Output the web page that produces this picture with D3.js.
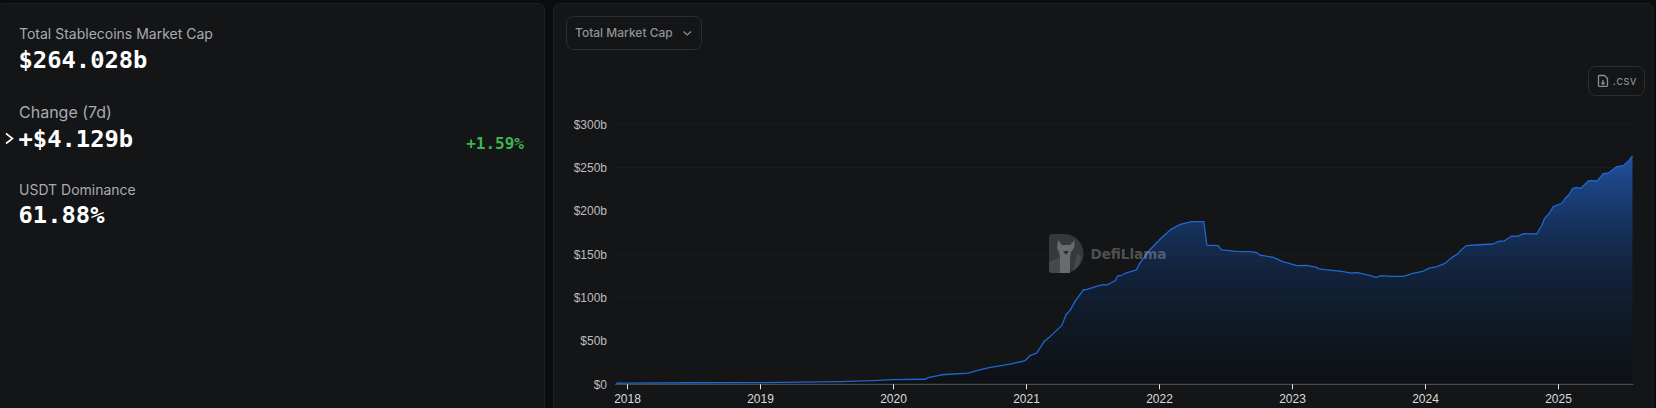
<!DOCTYPE html>
<html>
<head>
<meta charset="utf-8">
<script src="https://cdn.jsdelivr.net/npm/d3@7"></script>
<style>
html,body{margin:0;padding:0;background:#0b0c0e;overflow:hidden}
svg{display:block}
</style>
</head>
<body>
<svg id="c" width="1656" height="408"></svg>
<script>
const years = [2017.92,2018,2018.5,2019,2019.3,2019.6,2019.85,2020,2020.24,2020.265,2020.365,2020.565,2020.63,2020.715,2020.88,2020.99,2021.03,2021.08,2021.14,2021.18,2021.27,2021.30,2021.33,2021.37,2021.43,2021.46,2021.53,2021.58,2021.61,2021.67,2021.69,2021.72,2021.75,2021.83,2021.855,2021.93,2022.01,2022.09,2022.16,2022.245,2022.337,2022.36,2022.445,2022.47,2022.58,2022.68,2022.73,2022.76,2022.86,2022.93,2022.985,2023.035,2023.11,2023.185,2023.195,2023.25,2023.36,2023.45,2023.49,2023.575,2023.63,2023.67,2023.74,2023.84,2023.90,2023.99,2024.025,2024.09,2024.15,2024.205,2024.25,2024.27,2024.31,2024.41,2024.51,2024.56,2024.595,2024.65,2024.70,2024.74,2024.84,2024.88,2024.90,2024.93,2024.965,2025.03,2025.05,2025.08,2025.11,2025.14,2025.17,2025.23,2025.295,2025.34,2025.38,2025.44,2025.49,2025.53,2025.56];
const marketCap = [1.2,1.4,1.8,2,2.4,3.0,4.2,5.3,5.8,7.6,11,13,15.7,19,23.4,26.9,33,36,50,55,68,80,85,96,108.8,109.5,113,115,114.8,119.5,125,125.8,128.4,132,139.6,155,167.6,178.8,184.6,187.6,187.6,160.7,160,155,153.4,153,152.3,149,146.5,141.5,139.2,136.9,137.3,135,133.4,132.2,130.7,128.4,128.8,126,123.4,125.3,124.6,124.6,127.6,130.7,133.8,135.7,139.6,146.5,151,154.6,160,161,161.9,165.3,165.3,170.8,171,173.8,173.4,183.8,191.5,196.5,205,209.2,213.8,218.4,225.7,227.3,226,235,234.6,243,243.8,251,252.2,257.6,263.4];
const xTicks = [2018,2019,2020,2021,2022,2023,2024,2025];
const yTicks = [0,50,100,150,200,250,300];
const stats = [
  {label:"Total Stablecoins Market Cap", value:"$264.028b"},
  {label:"Change (7d)", value:"+$4.129b"},
  {label:"USDT Dominance", value:"61.88%"}
];
const changePct = "+1.59%";
const dropdownLabel = "Total Market Cap";
const csvLabel = ".csv";
const brand = "DefiLlama";

const svg = d3.select("#c");
const sans = "Inter, 'Noto Sans', sans-serif";
const mono = "'DejaVu Sans Mono', monospace";
const axisFont = "'Liberation Sans', Arial, sans-serif";

// panels
const panels = [[-2,3.5,546.5,430],[553.5,3.5,1099.5,430]];
svg.selectAll("rect.panel").data(panels).join("rect").attr("class","panel")
  .attr("x",d=>d[0]).attr("y",d=>d[1]).attr("width",d=>d[2]).attr("height",d=>d[3])
  .attr("rx",6).attr("fill","#141517").attr("stroke","#1f2124");

// left stats
const labelFont = [14,16,14], labelY=[38.5,117.5,194.5], valueY=[67.5,147,222.5];
stats.forEach((s,i)=>{
  svg.append("text").attr("x",19).attr("y",labelY[i]).text(s.label)
    .attr("font-family",sans).attr("font-size",labelFont[i]).attr("fill","#a8abb0");
  svg.append("text").attr("x",18.5).attr("y",valueY[i]).text(s.value)
    .attr("font-family",mono).attr("font-weight",700).attr("font-size",23.8).attr("fill","#fff");
});
svg.append("text").attr("x",524).attr("y",148.5).attr("text-anchor","end").text(changePct)
  .attr("font-family",mono).attr("font-weight",700).attr("font-size",16).attr("fill","#3fb34f");
svg.append("path").attr("d","M6 133.5L12.5 138.5L6 143.5").attr("fill","none").attr("stroke","#fff").attr("stroke-width",1.6);

// dropdown
svg.append("rect").attr("x",566.5).attr("y",16.5).attr("width",135).attr("height",33).attr("rx",7)
  .attr("fill","none").attr("stroke","#2c2e32");
svg.append("text").attr("x",575).attr("y",36.5).text(dropdownLabel)
  .attr("font-family",sans).attr("font-weight",500).attr("font-size",12).attr("fill","#8f9296");
svg.append("path").attr("d","M683.5 31.5L687.2 35L691 31.5").attr("fill","none").attr("stroke","#8f9296").attr("stroke-width",1.1);

// csv button
svg.append("rect").attr("x",1588.5).attr("y",66.5).attr("width",56).attr("height",29).attr("rx",7)
  .attr("fill","none").attr("stroke","#2c2e32");
svg.append("path").attr("d","M1599 75.5h5.5l3 3v7a.8.8 0 0 1-.8.8h-7.4a.8.8 0 0 1-.8-.8v-9.2a.8.8 0 0 1 .8-.8zM1603 80v4M1601.3 82.6L1603 84.4L1604.7 82.6")
  .attr("fill","none").attr("stroke","#8c8f94").attr("stroke-width",1.3);
svg.append("text").attr("x",1612.5).attr("y",85).text(csvLabel)
  .attr("font-family",sans).attr("font-size",12).attr("letter-spacing",0.2).attr("fill","#8c8f94");

// chart
const x = d3.scaleLinear().domain([2018,2025]).range([627,1558]);
const y = d3.scaleLinear().domain([0,300]).range([384.3,124.3]);
const data = years.map((t,i)=>({t,v:marketCap[i]}));
const plotL = 615, plotR = x(years[years.length-1]);

const defs = svg.append("defs");
const grad = defs.append("linearGradient").attr("id","g").attr("gradientUnits","userSpaceOnUse")
  .attr("x1",0).attr("x2",0).attr("y1",y(d3.max(marketCap))).attr("y2",y(0));
[[0,"rgb(32,80,155)"],[0.29,"rgb(22,50,95)"],[0.5,"rgb(18,35,60)"],[0.75,"rgb(15,24,36)"],[1,"rgb(14,17,20)"]]
  .forEach(s=>grad.append("stop").attr("offset",s[0]).attr("stop-color",s[1]));

svg.append("path").datum(data)
  .attr("d",d3.area().x(d=>x(d.t)).y0(y(0)).y1(d=>y(d.v)))
  .attr("fill","url(#g)");

// grid
svg.append("g").selectAll("line").data(yTicks.slice(1)).join("line")
  .attr("x1",plotL).attr("x2",plotR+1).attr("y1",d=>y(d)).attr("y2",d=>y(d))
  .attr("stroke","#fff").attr("stroke-opacity",0.03);

svg.append("path").datum(data)
  .attr("d",d3.line().x(d=>x(d.t)).y(d=>y(d.v)))
  .attr("fill","none").attr("stroke","#1F67D2").attr("stroke-width",1.3).attr("stroke-linejoin","round");

// axes
const gx = svg.append("g").attr("transform",`translate(0,${y(0)})`)
  .call(d3.axisBottom(x).tickValues(xTicks).tickFormat(d3.format("d")).tickSize(5).tickPadding(5));
gx.select(".domain").attr("d",`M${plotL},0H${plotR+1}`).attr("stroke","#58595c").attr("stroke-width",1);
gx.selectAll(".tick line").attr("stroke","#e6e6e6");
gx.selectAll("text").attr("fill","#dcdcdc").attr("font-family",axisFont).attr("font-size",12);

const gy = svg.append("g").attr("transform",`translate(615,0)`)
  .call(d3.axisLeft(y).tickValues(yTicks).tickFormat(d=>d===0?"$0":`$${d}b`).tickSize(0).tickPadding(8));
gy.select(".domain").remove();
gy.selectAll("text").attr("fill","#bdbdbd").attr("font-family",axisFont).attr("font-size",12);

// watermark
const wm = svg.append("g");
wm.append("path").attr("d","M1052 234h12a19.5 19.5 0 0 1 0 39h-12a3 3 0 0 1-3-3v-33a3 3 0 0 1 3-3z").attr("fill","#37383a");
wm.append("path").attr("d","M1049 262l12-5v16h-9a3 3 0 0 1-3-3zM1073 271l4-18 4 3a19 19 0 0 1-8 15z").attr("fill","#47484a");
wm.append("path").attr("d","M1058 240l4 5h8l5-5-1 8-3 4-1 5v16h-10v-16l-1-5-2-4z").attr("fill","#6a6b6d");
wm.append("path").attr("d","M1063 251h6l-3 4z").attr("fill","#2c2d2f");
svg.append("text").attr("x",1090.5).attr("y",259).text(brand)
  .attr("font-family","'DejaVu Sans', sans-serif").attr("font-weight",700).attr("font-size",13.5)
  .attr("fill","#fff").attr("fill-opacity",0.26);
</script>
</body>
</html>
